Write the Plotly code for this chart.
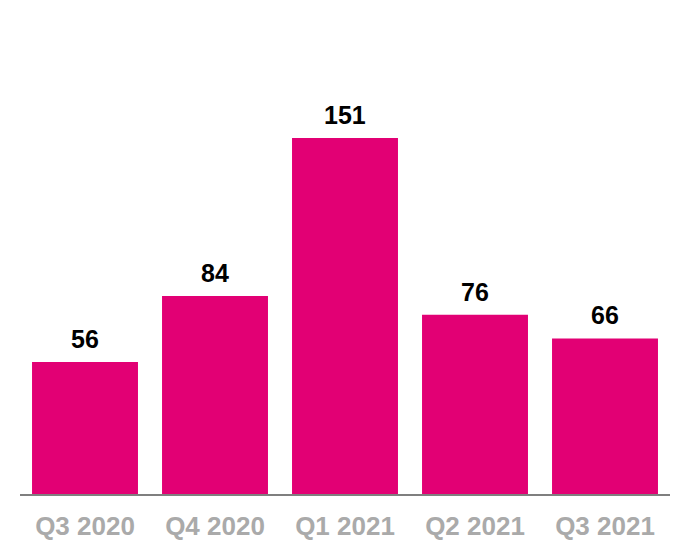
import plotly.graph_objects as go

categories = ["Q3 2020", "Q4 2020", "Q1 2021", "Q2 2021", "Q3 2021"]
values = [56, 84, 151, 76, 66]

BAR = "#E20074"

fig = go.Figure(go.Bar(
    x=categories, y=values,
    marker=dict(color=BAR, line=dict(width=0)),
    hoverinfo="skip",
))

for c, v in zip(categories, values):
    fig.add_annotation(
        x=c, y=v, text=f"<b>{v}</b>", showarrow=False,
        yanchor="bottom", yshift=7,
        font=dict(family="Liberation Sans, Arial, sans-serif", size=25, color="#000000"),
    )

fig.update_layout(
    width=690, height=560,
    margin=dict(l=20, r=20, t=40, b=66),
    paper_bgcolor="white", plot_bgcolor="white",
    bargap=0.185,
    showlegend=False,
    xaxis=dict(
        showline=True, linecolor="#7f7f7f", linewidth=2,
        showgrid=False, zeroline=False, ticks="",
        tickfont=dict(family="Liberation Sans, Arial, sans-serif", size=26, color="#AAAAAA", weight="bold"),
        ticklabelstandoff=8,
    ),
    yaxis=dict(
        range=[0, 192.6], visible=False, showgrid=False, zeroline=False,
    ),
)

fig.write_html("out.html")
